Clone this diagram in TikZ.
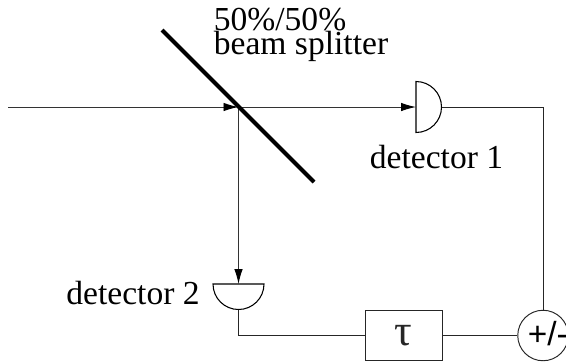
\documentclass[tikz,border=0pt]{standalone}
\usepackage{fontspec}
\setmainfont{Liberation Serif}
\newfontfamily\sumfont{Liberation Sans}
\usetikzlibrary{arrows.meta}
\tikzset{
	beam/.style={line width=0.55pt, color=black!80},
	beamarrow/.style={beam, -{Latex[length=3mm,width=1.7mm,black]}},
	wire/.style={line width=0.55pt, color=black!85},
	detector/.style={line width=0.6pt, color=black},
	label/.style={font=\fontsize{19.1}{17}\selectfont, inner sep=0pt},
}

\begin{document}
\begin{tikzpicture}
		%%%%% START %%%%%
		\useasboundingbox (0, 0) rectangle (11.32, 7.26);
		
		\coordinate (source) at (0.16, 5.12);
		\coordinate (split) at (4.77, 5.12);
		\coordinate (det1in) at (8.32, 5.12);
		\coordinate (det1out) at (8.83, 5.12);
		\coordinate (det2in) at (4.77, 1.58);
		\coordinate (det2out) at (4.77, 1.07);
		\coordinate (corner1) at (10.86, 5.12);
		\coordinate (corner2) at (4.77, 0.55);
		\coordinate (mirrortop) at (3.24, 6.66);
		\coordinate (mirrorend) at (6.28, 3.62);
		
		\node[draw, wire, minimum width=1.54cm, minimum height=1.01cm, inner sep=0pt] (delay) at (8.07, 0.55) {\fontsize{25}{25}\selectfont τ};
		\node[draw, wire, circle, minimum size=1.01cm, inner sep=0pt] (sum) at (10.86, 0.55) {};
		\node[anchor=base west, inner sep=0pt] (sumlabel) at (10.55, 0.35) {\sumfont\fontsize{19}{19}\selectfont +/-};
		
		\draw[detector] (8.32, 5.63) arc (90:-90:0.51) -- cycle;
		\draw[detector] (4.26, 1.58) arc (180:360:0.51) -- cycle;
		
		\draw[beamarrow] (source) -- (split);
		\draw[beamarrow] (split) -- (det1in);
		\draw[beamarrow] (split) -- (det2in);
		\draw[line width=2.3pt] (mirrortop) -- (mirrorend);
		
		\draw[wire] (det1out) -- (corner1) -- (sum.north);
		\draw[wire] (det2out) -- (corner2) -- (delay.west);
		\draw[wire] (delay.east) -- (sum.west);
		
		\node[label, anchor=base west] (ratio) at (4.27, 6.65) {50\%/50\%};
		\node[label, anchor=base west] (name) at (4.27, 6.17) {beam splitter};
		\node[label, anchor=base west] (det1label) at (7.39, 3.90) {detector 1};
		\node[label, anchor=base west] (det2label) at (1.32, 1.17) {detector 2};
		
		%%%%% END %%%%%
	\end{tikzpicture}
\end{document}
